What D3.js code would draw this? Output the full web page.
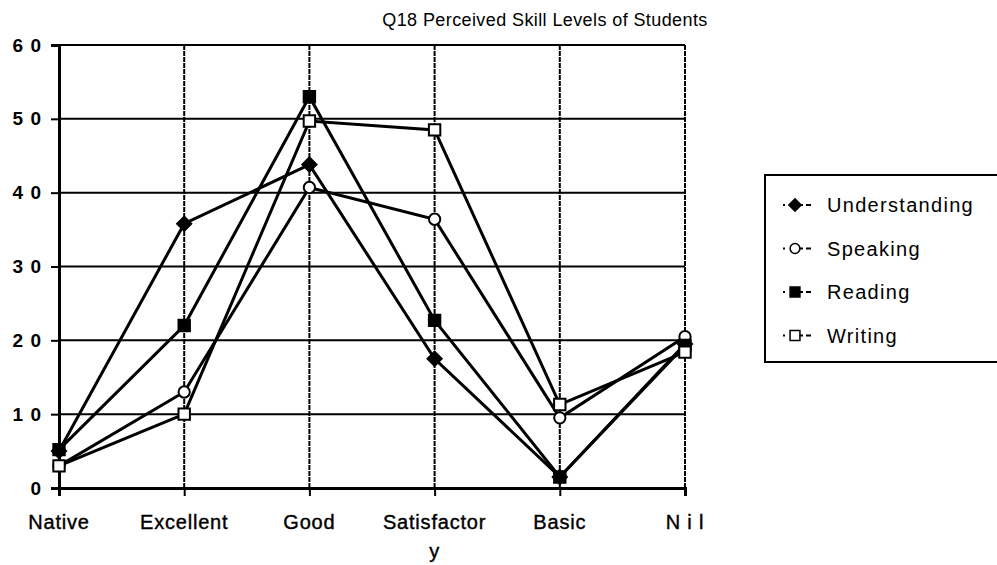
<!DOCTYPE html>
<html lang="en">
<head>
<script src="https://d3js.org/d3.v7.min.js"></script>
<style>
  body { margin: 0; background: #fff; font-family: "Liberation Sans", Arial, sans-serif; }
  text { fill: #000; }
</style>
</head>
<body>
<div id="chart"></div>
<script>
// data
var categories = ["Native", "Excellent", "Good", "Satisfactory", "Basic", "Nil"];
var understanding = [5, 35.8, 43.8, 17.5, 1.5, 19.5];
var speaking = [3, 13, 40.7, 36.4, 9.5, 20.5];
var reading = [5.2, 22, 53, 22.7, 1.5, 19.3];
var writing = [3, 10, 49.7, 48.5, 11.3, 18.4];
var yTicks = [0, 10, 20, 30, 40, 50, 60];

var series = [
  { name: "Understanding", values: understanding, shape: "diamond", fill: "#000" },
  { name: "Speaking", values: speaking, shape: "circle", fill: "#fff" },
  { name: "Reading", values: reading, shape: "square", fill: "#000" },
  { name: "Writing", values: writing, shape: "square", fill: "#fff" }
];

var W = 997, H = 565;
var margin = { top: 45, right: 312, bottom: 77, left: 59 };
var width = W - margin.left - margin.right,
    height = H - margin.top - margin.bottom;

var svg = d3.select("#chart").append("svg")
  .attr("width", W).attr("height", H);

var g = svg.append("g")
  .attr("transform", "translate(" + margin.left + "," + margin.top + ")");

var x = d3.scalePoint().domain(categories).range([0, width]);
var y = d3.scaleLinear().domain([0, 60]).range([height, 0]);

function markerPath(shape, scale) {
  if (shape === "circle") return d3.symbol().type(d3.symbolCircle).size(100 * scale)();
  return d3.symbol().type(d3.symbolSquare).size((shape === "diamond" ? 100 : 130) * scale)();
}
function markerRot(shape) { return shape === "diamond" ? " rotate(45)" : ""; }

// horizontal grid
g.selectAll(".hgrid").data(yTicks).enter().append("line")
  .attr("x1", 0).attr("x2", width)
  .attr("y1", function(d) { return y(d); }).attr("y2", function(d) { return y(d); })
  .attr("stroke", "#000").attr("stroke-width", 2);

// vertical grid (dotted look)
g.selectAll(".vgrid").data(categories.slice(1)).enter().append("line")
  .attr("x1", function(d) { return x(d); }).attr("x2", function(d) { return x(d); })
  .attr("y1", 0).attr("y2", height)
  .attr("stroke", "#000").attr("stroke-width", 2)
  .attr("stroke-dasharray", "5,1");

// y axis
var yAxis = g.append("g").call(d3.axisLeft(y).tickValues(yTicks).tickSize(8).tickFormat(function(d) {
  return String(d).split("").join(" ");
}));
yAxis.select(".domain").attr("stroke-width", 3);
yAxis.selectAll(".tick line").attr("stroke-width", 2);
yAxis.selectAll("text")
  .attr("x", -17)
  .style("font-family", "'Liberation Sans', Arial, sans-serif")
  .style("font-size", "19px").style("font-weight", "bold")
  .style("letter-spacing", "1px").attr("fill", "#000");

// x axis
var xAxis = g.append("g").attr("transform", "translate(0," + height + ")")
  .call(d3.axisBottom(x).tickSize(8).tickFormat(""));
xAxis.select(".domain").attr("stroke-width", 3);
xAxis.selectAll(".tick line").attr("stroke-width", 2);

// x labels (Satisfactory wraps like the original)
var xLabels = g.selectAll(".xlab").data(categories).enter().append("text")
  .attr("x", function(d) { return x(d); })
  .attr("y", height + 41)
  .attr("text-anchor", "middle")
  .style("font-size", "20px")
  .style("letter-spacing", "0.8px")
  .attr("stroke", "#000").attr("stroke-width", 0.4);
xLabels.each(function(d) {
  var t = d3.select(this);
  if (d === "Satisfactory") {
    t.append("tspan").attr("x", x(d)).text("Satisfactor");
    t.append("tspan").attr("x", x(d)).attr("dy", 29).text("y");
  } else if (d === "Nil") {
    t.text("N i l");
  } else {
    t.text(d);
  }
});

// lines
var line = d3.line()
  .x(function(d, i) { return x(categories[i]); })
  .y(function(d) { return y(d); });

g.selectAll(".series").data(series).enter().append("path")
  .attr("d", function(s) { return line(s.values); })
  .attr("fill", "none").attr("stroke", "#000").attr("stroke-width", 3);

// markers
series.forEach(function(s) {
  g.selectAll(null).data(s.values).enter().append("path")
    .attr("transform", function(d, i) {
      return "translate(" + x(categories[i]) + "," + y(d) + ")" + markerRot(s.shape);
    })
    .attr("d", markerPath(s.shape, 1))
    .attr("fill", s.fill).attr("stroke", "#000").attr("stroke-width", 2);
});

// title
svg.append("text")
  .attr("x", 545).attr("y", 26)
  .attr("text-anchor", "middle")
  .style("font-size", "18px")
  .style("letter-spacing", "0.4px")
  .text("Q18 Perceived Skill Levels of Students");

// legend
var legend = svg.append("g").attr("transform", "translate(765,175)");
legend.append("rect")
  .attr("width", 240).attr("height", 187)
  .attr("fill", "#fff").attr("stroke", "#000").attr("stroke-width", 2);

var items = legend.selectAll(".item").data(series).enter().append("g")
  .attr("transform", function(d, i) { return "translate(0," + (30 + i * 43.5) + ")"; });
items.append("line")
  .attr("x1", 18).attr("x2", 46).attr("y1", 0).attr("y2", 0)
  .attr("stroke", "#000").attr("stroke-width", 2).attr("stroke-dasharray", "2,6,12,3,6,0");
items.append("path")
  .attr("transform", function(s) { return "translate(30,0)" + markerRot(s.shape); })
  .attr("d", function(s) { return markerPath(s.shape, 0.75); })
  .attr("fill", function(s) { return s.fill; })
  .attr("stroke", "#000").attr("stroke-width", 1.5);
items.append("text")
  .attr("x", 62).attr("dy", "0.35em")
  .style("font-size", "20px")
  .style("letter-spacing", "1.3px")
  .text(function(s) { return s.name; });
</script>
</body>
</html>
